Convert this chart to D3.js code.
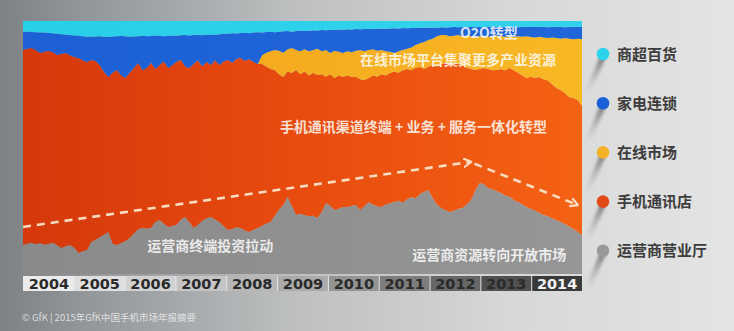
<!DOCTYPE html>
<html>
<head>
<meta charset="utf-8">
<script src="https://cdn.jsdelivr.net/npm/d3@7"></script>
<style>
  html, body { margin: 0; padding: 0; background: #c4c5c6; }
  svg { display: block; }
</style>
</head>
<body>
<svg id="canvas" width="734" height="331"></svg>
<script>
// Define and Initialise Variables
let years = ['2004', '2005', '2006', '2007', '2008', '2009', '2010', '2011', '2012', '2013', '2014'];

// Monthly share of sales by channel, Jan 2004 - Dec 2014 (%)
let operatorHall = [
    11.5, 12.0, 12.4, 11.8, 12.3, 11.6, 12.0, 12.4, 11.4, 10.3, 11.0, 11.5,
    10.5, 8.3, 9.0, 9.5, 12.6, 13.5, 14.6, 15.5, 16.6, 12.0, 11.5, 12.3,
    13.0, 14.2, 16.0, 17.8, 18.2, 18.0, 18.2, 20.6, 21.3, 20.0, 18.6, 19.0,
    19.5, 21.5, 22.5, 20.5, 18.2, 19.5, 21.0, 22.0, 22.5, 21.5, 20.6, 19.0,
    17.4, 17.8, 18.5, 18.2, 17.2, 16.6, 17.5, 18.2, 19.0, 20.0, 20.6, 23.0,
    25.5, 27.3, 30.4, 27.0, 23.3, 23.8, 23.3, 22.8, 23.0, 22.1, 24.5, 28.1,
    27.0, 25.3, 25.8, 26.5, 26.5, 27.0, 27.3, 25.3, 26.8, 28.5, 27.5, 26.8,
    26.5, 27.5, 28.0, 28.5, 29.0, 28.2, 29.5, 30.4, 29.8, 31.5, 32.5, 33.2,
    30.0, 27.5, 26.1, 25.2, 24.5, 25.0, 25.8, 26.1, 27.5, 29.2, 33.0, 36.0,
    35.5, 34.0, 33.5, 32.8, 32.0, 31.0, 30.5, 29.2, 28.5, 27.5, 26.5, 25.8,
    25.0, 24.2, 23.3, 22.8, 22.0, 21.2, 20.6, 19.8, 18.8, 17.8, 16.6, 15.4
];
let phoneShop = [
    77.0, 77.0, 76.9, 76.7, 75.1, 76.2, 76.1, 75.2, 75.2, 76.7, 76.4, 75.0,
    75.3, 77.1, 75.5, 74.3, 72.0, 70.7, 67.9, 64.3, 61.3, 67.5, 69.1, 66.2,
    64.5, 65.3, 65.4, 65.6, 62.4, 63.4, 65.3, 60.4, 61.3, 64.0, 62.8, 63.5,
    64.5, 63.1, 59.5, 60.9, 64.8, 65.0, 61.0, 61.8, 60.1, 63.0, 62.0, 65.0,
    67.2, 65.7, 66.5, 67.2, 67.0, 68.4, 66.3, 64.8, 64.0, 62.0, 60.4, 57.5,
    53.5, 50.6, 49.6, 52.4, 57.3, 55.2, 56.7, 55.7, 56.5, 56.6, 54.5, 49.9,
    52.0, 52.2, 52.7, 51.4, 52.0, 50.9, 50.7, 51.7, 49.9, 49.0, 51.0, 51.2,
    52.5, 51.0, 51.4, 51.5, 50.5, 52.3, 51.5, 50.1, 51.7, 50.3, 48.5, 48.8,
    52.5, 54.5, 56.9, 58.2, 58.5, 58.4, 57.2, 56.4, 54.0, 51.8, 47.6, 45.0,
    45.9, 47.0, 47.0, 47.8, 49.0, 49.5, 50.9, 51.3, 51.0, 51.0, 51.0, 52.2,
    52.5, 53.7, 53.7, 53.7, 53.0, 52.3, 52.1, 51.7, 51.2, 51.8, 52.2, 51.1
];
let onlineMarket = [
    0, 0, 0, 0, 0, 0, 0, 0, 0, 0, 0, 0,
    0, 0, 0, 0, 0, 0, 0, 0, 0, 0, 0, 0,
    0, 0, 0, 0, 0, 0, 0, 0, 0, 0, 0, 0,
    0, 0, 0, 0, 0, 0, 0, 0, 0, 0, 0, 0,
    0, 0, 0, 0, 0, 0, 0, 0, 3.5, 5.5, 7.0, 8.0,
    9.2, 9.6, 8.8, 9.9, 7.9, 9.0, 8.8, 9.5, 9.0, 10.3, 9.0, 10.5,
    8.4, 10.7, 9.3, 9.5, 9.5, 9.7, 10.2, 11.5, 11.3, 11.0, 10.3, 10.2,
    9.5, 9.5, 8.4, 7.4, 8.5, 8.0, 8.0, 9.0, 9.0, 9.4, 10.7, 10.5,
    10.5, 12.0, 11.5, 11.1, 11.0, 10.8, 11.5, 11.5, 12.8, 13.0, 13.2, 13.0,
    12.8, 12.8, 13.5, 13.7, 13.0, 13.3, 12.6, 13.2, 14.5, 15.3, 16.5, 15.7,
    16.0, 15.9, 16.5, 16.8, 18.5, 19.8, 20.3, 21.8, 23.0, 23.2, 24.2, 26.3
];
let applianceChain = [
    7.3, 6.8, 6.4, 7.1, 8.1, 7.7, 7.2, 7.6, 8.4, 7.8, 7.2, 8.0,
    8.5, 8.8, 9.5, 10.0, 9.2, 9.7, 11.5, 14.0, 15.8, 14.4, 13.4, 15.6,
    16.5, 14.3, 12.5, 10.6, 13.6, 12.6, 10.6, 13.3, 11.6, 10.0, 12.7, 11.8,
    10.2, 9.8, 12.5, 12.9, 11.5, 10.1, 12.4, 10.8, 12.1, 10.0, 12.2, 11.0,
    10.4, 11.7, 10.1, 9.9, 11.2, 10.2, 11.7, 12.6, 9.0, 8.2, 7.8, 7.1,
    7.6, 8.4, 7.2, 6.5, 7.5, 8.2, 7.2, 8.1, 7.8, 7.2, 8.4, 7.8,
    9.1, 8.2, 8.8, 9.1, 8.7, 9.0, 8.6, 8.2, 8.8, 8.4, 8.0, 8.7,
    8.5, 8.9, 9.2, 9.7, 9.0, 8.7, 8.1, 7.7, 6.8, 6.0, 5.7, 4.8,
    4.4, 3.3, 3.0, 2.9, 3.5, 3.4, 3.0, 3.6, 3.2, 3.6, 3.7, 3.6,
    3.3, 3.8, 3.7, 3.3, 3.5, 3.8, 3.7, 3.9, 3.5, 3.8, 3.7, 3.9,
    4.1, 3.9, 4.1, 4.2, 4.1, 4.4, 4.6, 4.2, 4.6, 4.9, 4.6, 4.8
];
let supermarket = [
    4.2, 4.2, 4.3, 4.4, 4.5, 4.5, 4.7, 4.8, 5.0, 5.2, 5.4, 5.5,
    5.7, 5.8, 6.0, 6.2, 6.2, 6.1, 6.0, 6.2, 6.3, 6.1, 6.0, 5.9,
    6.0, 6.2, 6.1, 6.0, 5.8, 6.0, 5.9, 5.7, 5.8, 6.0, 5.9, 5.7,
    5.8, 5.6, 5.5, 5.7, 5.5, 5.4, 5.6, 5.4, 5.3, 5.5, 5.2, 5.0,
    5.0, 4.8, 4.9, 4.7, 4.6, 4.8, 4.5, 4.4, 4.5, 4.3, 4.2, 4.4,
    4.2, 4.1, 4.0, 4.2, 4.0, 3.8, 4.0, 3.9, 3.7, 3.8, 3.6, 3.7,
    3.5, 3.6, 3.4, 3.5, 3.3, 3.4, 3.2, 3.3, 3.2, 3.1, 3.2, 3.1,
    3.0, 3.1, 3.0, 2.9, 3.0, 2.8, 2.9, 2.8, 2.7, 2.8, 2.6, 2.7,
    2.6, 2.7, 2.5, 2.6, 2.5, 2.4, 2.5, 2.4, 2.5, 2.4, 2.5, 2.4,
    2.5, 2.4, 2.3, 2.4, 2.5, 2.4, 2.3, 2.4, 2.5, 2.4, 2.3, 2.4,
    2.4, 2.3, 2.4, 2.5, 2.4, 2.3, 2.4, 2.5, 2.4, 2.3, 2.4, 2.4
];

// Series, bottom of the stack first
let keys = ['operator', 'shop', 'online', 'appliance', 'market'];
let labels = ['运营商营业厅', '手机通讯店', '在线市场', '家电连锁', '商超百货'];
let dotColors = ['#9a9a9a', '#e24a16', '#f4b229', '#1b60d8', '#2bd3ec'];

// Annotations: [text, month index, share of 1]
let notes = [
    ['O2O转型', 102.4, 0.933],
    ['在线市场平台集聚更多产业资源', 79.0, 0.826],
    ['手机通讯渠道终端 + 业务 + 服务一体化转型', 60.2, 0.561],
    ['运营商终端投资拉动', 29.1, 0.091],
    ['运营商资源转向开放市场', 91.2, 0.055]
];
let trendUp = [[0, 0.186], [104.8, 0.443]];
let trendDown = [[105.8, 0.436], [129.8, 0.274]];

let canvas = d3.select('#canvas');
let W = 734, H = 331;
let plotLeft = 23, plotRight = 582, plotTop = 21, plotBottom = 274;

let table = operatorHall.map((v, i) => ({
    operator: v,
    shop: phoneShop[i],
    online: onlineMarket[i],
    appliance: applianceChain[i],
    market: supermarket[i]
}));

let x = d3.scaleLinear().domain([0, table.length - 1]).range([plotLeft, plotRight]);
let y = d3.scaleLinear().domain([0, 1]).range([plotBottom, plotTop]);
let yearBand = d3.scaleBand().domain(years).range([plotLeft, plotRight]);

let defs = canvas.append('defs');

let addGradient = (id, stops, x2, y2) => {
    let g = defs.append('linearGradient').attr('id', id)
        .attr('x1', 0).attr('y1', 0).attr('x2', x2).attr('y2', y2);
    stops.forEach((s) => {
        g.append('stop').attr('offset', s[0]).attr('stop-color', s[1]).attr('stop-opacity', s[2] === undefined ? 1 : s[2]);
    });
};

addGradient('bg', [[0, '#7d8183'], [0.12, '#93979a'], [0.4, '#bdbfc0'], [0.7, '#d7d8d8'], [1, '#e4e4e4']], 1, 0);
addGradient('fill-operator', [[0, '#8a8a8a'], [1, '#969696']], 1, 0);
addGradient('fill-shop', [[0, '#d5380b'], [0.5, '#e84c0e'], [1, '#f46214']], 1, 0);
addGradient('fill-online', [[0, '#f2a11c'], [1, '#f8b824']], 1, 0);
addGradient('fill-appliance', [[0, '#1d60d6'], [1, '#2066d8']], 1, 0);
addGradient('fill-market', [[0, '#28cfe9'], [1, '#33d2ec']], 1, 0);
addGradient('streak', [[0, '#7a7a7a', 0.9], [1, '#bbbbbb', 0]], 0, 1);

defs.append('filter').attr('id', 'blur')
    .attr('x', '-50%').attr('y', '-50%').attr('width', '200%').attr('height', '200%')
    .append('feGaussianBlur').attr('stdDeviation', 1.8);

defs.append('marker')
    .attr('id', 'head')
    .attr('viewBox', '0 0 10 10')
    .attr('refX', 7).attr('refY', 5)
    .attr('markerWidth', 10).attr('markerHeight', 10)
    .attr('markerUnits', 'userSpaceOnUse')
    .attr('orient', 'auto')
    .append('path')
    .attr('d', 'M1,1 L8,5 L1,9')
    .attr('fill', 'none')
    .attr('stroke', '#fcdcc0')
    .attr('stroke-width', 2.2)
    .attr('stroke-linecap', 'round')
    .attr('stroke-linejoin', 'round');

// Background
canvas.append('rect').attr('width', W).attr('height', H).attr('fill', 'url(#bg)');

// Stacked 100% areas
let stacked = d3.stack().keys(keys).offset(d3.stackOffsetExpand)(table);
let area = d3.area()
    .x((d, i) => x(i))
    .y0((d) => y(d[0]))
    .y1((d) => y(d[1]));

canvas.append('g')
    .selectAll('path')
    .data(stacked)
    .enter()
    .append('path')
    .attr('d', area)
    .attr('fill', (d) => 'url(#fill-' + d.key + ')');

// Year strip
let boxColor = d3.scaleLinear().domain([0, 5, 10]).range(['#ececec', '#aaaaaa', '#3a3a3a']);
let strip = canvas.append('g');
strip.append('rect')
    .attr('x', plotLeft).attr('y', 276)
    .attr('width', plotRight - plotLeft).attr('height', 15)
    .attr('fill', '#e6e6e6');
strip.selectAll('.yearbox')
    .data(years)
    .enter()
    .append('rect')
    .attr('class', 'yearbox')
    .attr('x', (d) => yearBand(d) + 1)
    .attr('y', 276)
    .attr('width', yearBand.bandwidth() - 1)
    .attr('height', 15)
    .attr('fill', (d, i) => boxColor(i));
strip.selectAll('.yeartext')
    .data(years)
    .enter()
    .append('text')
    .attr('class', 'yeartext')
    .attr('x', (d) => yearBand(d) + yearBand.bandwidth() / 2 + 0.5)
    .attr('y', 289)
    .attr('text-anchor', 'middle')
    .attr('font-family', 'DejaVu Sans, sans-serif')
    .attr('font-weight', 'bold')
    .attr('font-size', 14.5)
    .attr('fill', (d, i) => i === 10 ? '#f4f4f4' : '#2a2a2a')
    .text((d) => d);

// Trend arrows
let trendLine = d3.line().x((d) => x(d[0])).y((d) => y(d[1]));
canvas.selectAll('.trend')
    .data([trendUp, trendDown])
    .enter()
    .append('path')
    .attr('class', 'trend')
    .attr('d', trendLine)
    .attr('fill', 'none')
    .attr('stroke', '#fcdcc0')
    .attr('stroke-width', 2.6)
    .attr('stroke-dasharray', '8,6')
    .attr('marker-end', 'url(#head)');

// Annotations
canvas.selectAll('.note')
    .data(notes)
    .enter()
    .append('text')
    .attr('class', 'note')
    .attr('x', (d) => x(d[1]))
    .attr('y', (d) => y(d[2]))
    .attr('font-family', 'Noto Sans CJK SC, sans-serif')
    .attr('font-weight', 'bold')
    .attr('font-size', 14)
    .attr('fill', '#ffffff')
    .attr('fill-opacity', 0.84)
    .text((d) => d[0]);

// Legend, top of the stack first
let legendItems = keys.map((k, i) => ({ label: labels[i], color: dotColors[i] })).reverse();
let legend = canvas.append('g').attr('transform', 'translate(603,54)');
let item = legend.selectAll('g')
    .data(legendItems)
    .enter()
    .append('g')
    .attr('transform', (d, i) => 'translate(0,' + (i * 49.2) + ')');
item.append('line')
    .attr('x1', -1).attr('y1', 5)
    .attr('x2', -16).attr('y2', 40)
    .attr('stroke', 'url(#streak)')
    .attr('stroke-width', 6)
    .attr('stroke-linecap', 'round')
    .attr('filter', 'url(#blur)');
item.append('circle')
    .attr('r', 6.3)
    .attr('fill', (d) => d.color);
item.append('text')
    .attr('x', 14)
    .attr('y', 5.5)
    .attr('font-family', 'Noto Sans CJK SC, sans-serif')
    .attr('font-weight', 'bold')
    .attr('font-size', 15)
    .attr('fill', '#3c3c3c')
    .text((d) => d.label);

// Source line
canvas.append('text')
    .attr('x', 22)
    .attr('y', 321)
    .attr('font-family', 'Noto Sans CJK SC, sans-serif')
    .attr('font-size', 9.5)
    .attr('fill', '#eeeeee')
    .attr('fill-opacity', 0.85)
    .text('© GfK | 2015年GfK中国手机市场年报摘要');
</script>
</body>
</html>
